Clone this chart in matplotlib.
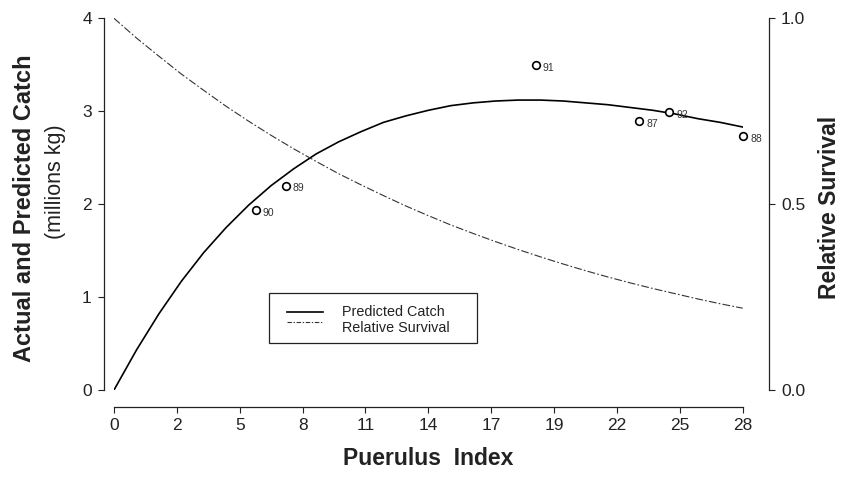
import matplotlib.pyplot as plt
from matplotlib.lines import Line2D
from matplotlib.patches import Rectangle

plt.rcParams['font.family'] = ['Liberation Sans', 'DejaVu Sans']

# model curves, read every 1 unit of puerulus index
index = list(range(29))
pred_catch = [0.00, 0.43, 0.82, 1.17, 1.48, 1.75, 1.99, 2.20, 2.38, 2.54,
              2.67, 2.78, 2.88, 2.95, 3.01, 3.06, 3.09, 3.11, 3.12, 3.12,
              3.11, 3.09, 3.07, 3.04, 3.01, 2.97, 2.92, 2.88, 2.83]
survival = [1.000, 0.947, 0.898, 0.850, 0.806, 0.763, 0.723, 0.685, 0.649, 0.615,
            0.582, 0.552, 0.523, 0.495, 0.469, 0.444, 0.421, 0.399, 0.378, 0.358,
            0.339, 0.321, 0.304, 0.288, 0.273, 0.259, 0.245, 0.232, 0.220]

# actual catch by season
years = ['90', '89', '91', '87', '92', '88']
puerulus = [6.31, 7.66, 18.79, 23.40, 24.73, 28.03]
actual = [1.94, 2.20, 3.50, 2.89, 2.99, 2.73]

xtick_pos = [0, 2.8, 5.6, 8.4, 11.2, 14, 16.8, 19.6, 22.4, 25.2, 28]
xtick_labels = ['0', '2', '5', '8', '11', '14', '17', '19', '22', '25', '28']

fig = plt.figure(figsize=(8.41, 4.78), dpi=100)
ax = fig.add_axes([114 / 841, 88 / 478, 628.7 / 841, 371.7 / 478])
ax2 = ax.twinx()

ax.plot(index, pred_catch, color='black', lw=1.2, zorder=3)
ax2.plot(index, survival, color='#333333', lw=0.8,
         linestyle=(0, (7, 2, 1.5, 2)))

ax.plot(puerulus, actual, 'o', ms=5.5, mfc='white', mec='black', mew=1.2,
        clip_on=False, zorder=4)
for yr, xv, yv in zip(years, puerulus, actual):
    ax.annotate(yr, (xv, yv), xytext=(5, -2), textcoords='offset points',
                fontsize=7.5, color='#333333', va='center', ha='left',
                annotation_clip=False)

ax.set_xlim(0, 28)
ax.set_ylim(0, 4)
ax2.set_ylim(0, 1)

ax.set_xticks(xtick_pos)
ax.set_xticklabels(xtick_labels)
ax.set_yticks([0, 1, 2, 3, 4])
ax2.set_yticks([0, 0.5, 1.0])
ax2.set_yticklabels(['0.0', '0.5', '1.0'])

for a in (ax, ax2):
    a.spines['top'].set_visible(False)
    a.patch.set_visible(False)
ax.spines['right'].set_visible(False)
ax2.spines['left'].set_visible(False)
ax2.spines['bottom'].set_visible(False)

ax.spines['left'].set_position(('outward', 7.5))
ax.spines['bottom'].set_position(('outward', 12))
ax2.spines['right'].set_position(('outward', 19))
ax.spines['left'].set_bounds(0, 4)
ax.spines['bottom'].set_bounds(0, 28)
ax2.spines['right'].set_bounds(0, 1)
for sp in (ax.spines['left'], ax.spines['bottom'], ax2.spines['right']):
    sp.set_linewidth(0.9)
    sp.set_color('#222222')

ax.tick_params(axis='both', direction='out', length=4.5, width=0.8,
               labelsize=12.5, colors='#222222', pad=4)
ax2.tick_params(axis='y', direction='out', length=4.5, width=0.8,
                labelsize=12.5, colors='#222222', pad=4)

ax.set_xlabel('Puerulus  Index', fontsize=16.5, fontweight='bold',
              color='#222222', labelpad=10)
fig.text(25 / 841, 1 - 208 / 478, 'Actual and Predicted Catch', rotation=90,
         fontsize=17, fontweight='bold', color='#222222',
         ha='center', va='center')
fig.text(55 / 841, 1 - 182 / 478, '(millions kg)', rotation=90,
         fontsize=15.5, color='#222222', ha='center', va='center')
fig.text(830 / 841, 1 - 207 / 478, 'Relative Survival', rotation=90,
         fontsize=16.5, fontweight='bold', color='#222222',
         ha='center', va='center')

# legend box
ax.add_patch(Rectangle((0.247, 0.126), 0.33, 0.134, transform=ax.transAxes,
                       fill=False, edgecolor='#222222', lw=0.9,
                       clip_on=False, zorder=5))
ax.add_line(Line2D([0.275, 0.333], [0.211, 0.211], transform=ax.transAxes,
                   color='black', lw=1.2))
ax.add_line(Line2D([0.275, 0.333], [0.182, 0.182], transform=ax.transAxes,
                   color='#333333', lw=0.8, linestyle=(0, (4, 1.5, 1.2, 1.5))))
ax.text(0.362, 0.211, 'Predicted Catch', transform=ax.transAxes,
        fontsize=10.4, color='#222222', va='center')
ax.text(0.362, 0.168, 'Relative Survival', transform=ax.transAxes,
        fontsize=10.4, color='#222222', va='center')

fig.savefig('out.png', dpi=100)
